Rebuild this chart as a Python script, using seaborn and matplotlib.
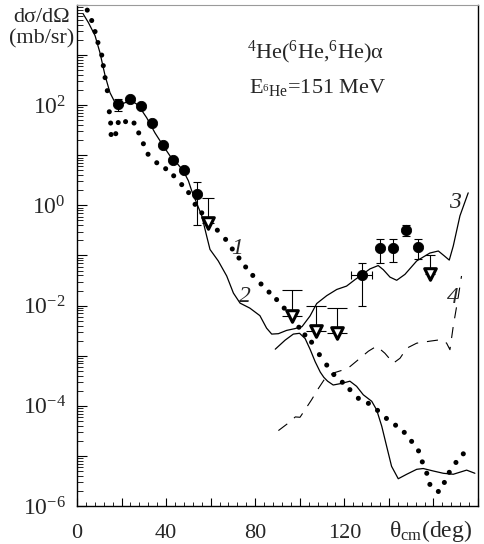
import matplotlib
matplotlib.use("Agg")
import matplotlib.pyplot as plt
import seaborn as sns
import pandas as pd
from matplotlib.ticker import FixedLocator, LogLocator, FuncFormatter, NullFormatter

# ---------------- data ----------------
# measured points (filled circles)
exp_theta = [18.4, 23.8, 28.7, 33.7, 38.5, 43.2, 48.2, 54.0, 127.8, 136.1, 142.0, 147.5, 153.2]
exp_sigma = [105, 132, 95, 44, 16, 7.9, 5.0, 1.7, 0.041, 0.14, 0.14, 0.32, 0.15]
exp_err_lo = [29, 0, 0, 0, 0, 0, 0, 1.29, 0.031, 0.07, 0.066, 0.075, 0.065]
exp_err_hi = [27, 0, 0, 0, 0, 0, 0, 1.25, 0.030, 0.07, 0.069, 0.09, 0.06]
exp_theta_err = [0, 0, 0, 0, 0, 0, 0, 0, 4.7, 0, 0, 0, 0]

# upper-limit points (open triangles)
lim_theta = [58.9, 96.6, 107.3, 116.8, 158.4]
lim_sigma = [0.45, 0.0062, 0.0031, 0.0028, 0.042]
lim_top = [1.38, 0.0204, 0.0098, 0.0091, 0.10]

# curve 1 (dotted)
c1_theta = [4.6, 6.6, 8.1, 9.4, 11.1, 11.8, 12.6, 13.6, 14.5, 15.1, 15.3, 17.4, 18.5, 21.8,
            25.6, 27.7, 29.8, 31.9, 35.8, 39.8, 43.4, 47.0, 50.1, 53.0, 56.0, 59.5, 63.0,
            66.7, 69.7, 72.7, 75.7, 78.9, 82.6, 86.2, 89.6, 93.0, 96.6, 99.6, 102.3, 105.3,
            108.8, 112.1, 115.3, 119.1, 122.5, 126.3, 130.8, 134.9, 138.9, 143.0, 146.9,
            150.2, 153.3, 155.0, 157.0, 158.4, 162.2, 164.9, 167.1, 170.1, 173.4]
c1_sigma = [7900, 4900, 2950, 1780, 1000, 615, 355, 195, 74, 44, 26, 27, 45, 47,
            44, 28, 17, 10.5, 7.1, 5.4, 3.9, 2.6, 1.8, 1.05, 0.71, 0.47, 0.32,
            0.21, 0.135, 0.089, 0.059, 0.040, 0.027, 0.0186, 0.0132, 0.0089, 0.0060, 0.0037,
            0.0026, 0.00186, 0.00105, 6.5e-4, 4.2e-4, 2.95e-4, 2.1e-4, 1.41e-4, 1.12e-4,
            8.1e-5, 5.6e-5, 4.1e-5, 2.95e-5, 1.95e-5, 1.26e-5, 7.6e-6, 4.5e-6, 2.7e-6,
            1.95e-6, 2.95e-6, 4.7e-6, 7.4e-6, 1.1e-5]

# curve 2 -> 3 (solid)
c2_theta = [2.8, 5.1, 8.1, 10.3, 12.6, 14.8, 17.1, 19.0, 21.5, 24.5, 27.5, 31.3, 35.0, 38.7,
            41.7, 44.7, 47.7, 50.0, 51.5, 53.7, 56.0, 58.2, 59.7, 63.4, 67.2, 70.2, 73.2,
            77.6, 82.1, 85.1, 87.4, 90.4, 94.1, 97.8, 101.0, 104.6, 107.6, 112.1, 116.6,
            121.0, 124.8, 127.8, 131.5, 135.2, 137.5, 140.5, 143.5, 147.2, 152.5, 158.4,
            162.2, 164.9, 167.1, 168.9, 171.9, 175.6]
c2_sigma = [6600, 4470, 2450, 1120, 390, 178, 112, 100, 112, 123, 100, 56, 28, 15.5,
            9.8, 7.1, 4.9, 3.1, 1.95, 1.12, 0.62, 0.245, 0.132, 0.078, 0.039, 0.0178, 0.0112,
            0.0089, 0.0063, 0.00355, 0.0027, 0.00275, 0.0032, 0.00347, 0.0038, 0.0062, 0.011,
            0.0158, 0.021, 0.0245, 0.033, 0.041, 0.054, 0.063, 0.052, 0.037, 0.032, 0.042,
            0.078, 0.112, 0.123, 0.098, 0.081, 0.155, 0.62, 1.78]

# solid curve falling towards large angles
c5_theta = [89.0, 93.4, 97.1, 99.9, 102.4, 104.7, 106.9, 109.2, 110.8, 112.5, 115.0, 118.8,
            122.5, 125.5, 128.5, 132.3, 134.5, 136.8, 139.0, 141.2, 144.2, 148.0, 152.5,
            155.4, 159.9, 164.4, 168.9, 174.9, 178.6]
c5_sigma = [0.00135, 0.00204, 0.0027, 0.0028, 0.0022, 0.00132, 7.6e-4, 4.7e-4, 3.7e-4,
            3.1e-4, 2.6e-4, 2.8e-4, 3.1e-4, 2.45e-4, 1.66e-4, 1.23e-4, 8.3e-5, 3.9e-5,
            1.55e-5, 6.2e-6, 3.5e-6, 4.3e-6, 5.4e-6, 5.6e-6, 5.0e-6, 4.5e-6, 4.3e-6,
            5.2e-6, 4.5e-6]

# curve 4 (dashed)
c4_theta = [90.4, 94.8, 98.0, 100.1, 102.0, 105.3, 108.3, 111.3, 115.0, 119.5, 122.0, 125.5,
            130.8, 134.5, 138.2, 142.0, 145.0, 148.0, 152.5, 158.4, 163.7, 165.9, 167.4,
            168.9, 171.2, 172.6]
c4_sigma = [3.2e-5, 4.5e-5, 6.0e-5, 5.9e-5, 7.9e-5, 1.32e-4, 2.2e-4, 3.5e-4, 4.5e-4, 5.2e-4,
            5.8e-4, 7.8e-4, 1.23e-3, 1.55e-3, 1.12e-3, 7.1e-4, 8.9e-4, 1.41e-3, 1.78e-3,
            1.95e-3, 2.1e-3, 1.78e-3, 1.32e-3, 3.9e-3, 0.0155, 0.039]

curve_labels = ["1", "2", "3", "4"]
label_theta = [71.8, 75.4, 169.7, 168.8]
label_sigma = [0.14, 0.0154, 1.15, 0.0145]

x_tick_labels = {0: "0", 40: "40", 80: "80", 120: "120"}

# ---------------- style ----------------
sns.set_style("ticks")
plt.rcParams["font.family"] = ["Liberation Serif", "DejaVu Serif"]
plt.rcParams["mathtext.fontset"] = "custom"
plt.rcParams["mathtext.rm"] = "Liberation Serif"
plt.rcParams["mathtext.it"] = "Liberation Serif:italic"
plt.rcParams["mathtext.bf"] = "Liberation Serif:bold"

W, H = 484, 544
fig = plt.figure(figsize=(W / 100, H / 100), dpi=100)
ax = fig.add_axes([77 / W, 1 - 506 / H, (478 - 77) / W, (506 - 5) / H])
ax.set_yscale("log")

# curves
sns.lineplot(data=pd.DataFrame({"t": c2_theta, "s": c2_sigma}), x="t", y="s", ax=ax,
             color="black", lw=0.9, sort=False, estimator=None)
sns.lineplot(data=pd.DataFrame({"t": c5_theta, "s": c5_sigma}), x="t", y="s", ax=ax,
             color="black", lw=0.9, sort=False, estimator=None)
sns.lineplot(data=pd.DataFrame({"t": c4_theta, "s": c4_sigma}), x="t", y="s", ax=ax,
             color="black", lw=0.8, sort=False, estimator=None, dashes=False)
ax.lines[-1].set_dashes([10, 8])
sns.scatterplot(x=c1_theta, y=c1_sigma, ax=ax, color="black", s=13, edgecolor="none",
                zorder=3)

# error bars for measured points
ax.errorbar(exp_theta, exp_sigma, yerr=[exp_err_lo, exp_err_hi], xerr=exp_theta_err,
            fmt="none", ecolor="black", elinewidth=0.8, capsize=3, capthick=0.8, zorder=4)
sns.scatterplot(x=exp_theta, y=exp_sigma, ax=ax, color="black", s=55, edgecolor="black",
                zorder=5)

# upper-limit triangles
cap_sizes = [4.3, 7.5, 7.5, 7.0, 3.6]
for t, s, top, cs in zip(lim_theta, lim_sigma, lim_top, cap_sizes):
    ax.errorbar([t], [s], yerr=[[0], [top - s]], fmt="none", ecolor="black",
                elinewidth=0.8, capsize=cs, capthick=0.8, zorder=4)
sns.scatterplot(x=lim_theta, y=lim_sigma, ax=ax, marker="v", s=70, color="white",
                edgecolor="black", linewidth=2.2, zorder=6)

# curve labels
for lab, t, s in zip(curve_labels, label_theta, label_sigma):
    ax.text(t, s, lab, fontsize=17, fontstyle="italic", ha="center", va="center")

# axes
ax.set_xlim(0, 180)
ax.set_ylim(1e-6, 1e4)
ax.set_xlabel("")
ax.set_ylabel("")

ax.xaxis.set_major_locator(FixedLocator(list(range(0, 181, 20))))
ax.xaxis.set_minor_locator(FixedLocator(list(range(0, 181, 4))))
ax.xaxis.set_major_formatter(FuncFormatter(lambda v, p: x_tick_labels.get(int(round(v)), "")))

ax.yaxis.set_major_locator(LogLocator(base=10, numticks=20))
ax.yaxis.set_minor_locator(LogLocator(base=10, subs=list(range(2, 10)), numticks=20))
ax.yaxis.set_minor_formatter(NullFormatter())


def ylab(v, p):
    import math
    e = int(round(math.log10(v)))
    if e % 2 != 0 or e > 2:
        return ""
    return r"$10^{%d}$" % e


ax.yaxis.set_major_formatter(FuncFormatter(ylab))

ax.tick_params(axis="both", which="both", direction="in", color="black")
ax.tick_params(axis="x", which="major", length=6, width=0.8, labelsize=16, pad=13)
ax.tick_params(axis="x", which="minor", length=3, width=0.6)
ax.tick_params(axis="y", which="major", length=7, width=0.8, labelsize=17, pad=8)
ax.tick_params(axis="y", which="minor", length=4, width=0.6)

for side in ["left", "bottom", "right"]:
    ax.spines[side].set_color("black")
    ax.spines[side].set_linewidth(1.0)
    ax.spines[side].set_visible(True)
ax.spines["top"].set_visible(True)
ax.spines["top"].set_color("#9a9a9a")
ax.spines["top"].set_linewidth(0.8)

# texts
ax.text(0.425, 0.905, r"$^4$He($^6$He,$^6$He)α", transform=ax.transAxes, fontsize=16,
        ha="left", va="center")
ax.text(0.43, 0.835, r"E$_{^6\mathrm{He}}$=151 MeV", transform=ax.transAxes, fontsize=16,
        ha="left", va="center")
fig.text(42 / W, 1 - 17 / H, "dσ/dΩ", fontsize=16, ha="center", va="center")
fig.text(42 / W, 1 - 39 / H, "(mb/sr)", fontsize=16, ha="center", va="center")
fig.text(431 / W, 1 - 531 / H, r"θ$_{\mathrm{cm}}$(deg)", fontsize=17,
         ha="center", va="center")

fig.savefig("out.png", dpi=100)
